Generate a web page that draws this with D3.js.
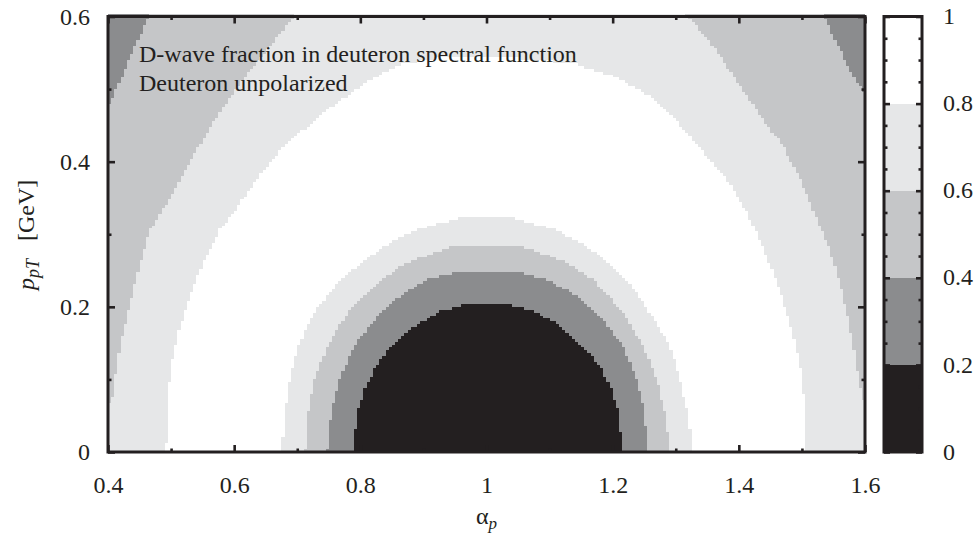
<!DOCTYPE html>
<html><head><meta charset="utf-8">
<script src="https://cdn.jsdelivr.net/npm/d3@7"></script>
<style>
body{margin:0;background:#fff}
svg{display:block}
text{font-family:"Liberation Serif","Times New Roman",serif;fill:#231f20}
</style>
</head><body>
<svg id="chart" width="976" height="535"></svg>
<script>
// ---------- data ----------
const levels = [0, 0.2, 0.4, 0.6, 0.8, 1];
const bandColors = ["#231f20", "#8b8c8e", "#c5c6c8", "#e6e7e8", "#ffffff"];
const xTicks = [0.4, 0.6, 0.8, 1, 1.2, 1.4, 1.6];
const xMinor = [0.5, 0.7, 0.9, 1.1, 1.3, 1.5];
const yTicks = [0, 0.2, 0.4, 0.6];
const yMinor = [0.1, 0.3, 0.5];
const cbTicks = [0, 0.2, 0.4, 0.6, 0.8, 1];
const cbMinor = [0.05,0.1,0.15,0.25,0.3,0.35,0.45,0.5,0.55,0.65,0.7,0.75,0.85,0.9,0.95];
const noteLines = ["D-wave fraction in deuteron spectral function", "Deuteron unpolarized"];

// contour boundaries [alpha_p, p_pT]
// inner half-rings (value below level inside)
const inner02 = [[0.788,0],[0.796,0.055],[0.809,0.091],[0.825,0.119],[0.848,0.146],[0.888,0.174],[0.927,0.194],[0.97,0.205],[1.03,0.205],[1.075,0.194],[1.117,0.174],[1.151,0.146],[1.18,0.119],[1.196,0.091],[1.209,0.055],[1.216,0]];
const inner04 = [[0.747,0],[0.754,0.054],[0.767,0.1],[0.790,0.146],[0.833,0.192],[0.864,0.215],[0.906,0.238],[0.962,0.2495],[1.041,0.2495],[1.096,0.238],[1.143,0.215],[1.175,0.192],[1.217,0.146],[1.238,0.1],[1.251,0.054],[1.256,0]];
const inner06 = [[0.712,0],[0.717,0.054],[0.727,0.1],[0.748,0.146],[0.78,0.192],[0.833,0.238],[0.875,0.261],[0.951,0.285],[1.051,0.285],[1.127,0.261],[1.169,0.238],[1.217,0.192],[1.248,0.146],[1.27,0.1],[1.283,0.054],[1.292,0]];
const inner08 = [[0.676,0],[0.68,0.054],[0.688,0.1],[0.701,0.146],[0.727,0.192],[0.769,0.238],[0.838,0.284],[0.891,0.307],[0.964,0.324],[1.035,0.324],[1.106,0.307],[1.159,0.284],[1.222,0.238],[1.259,0.192],[1.291,0.146],[1.306,0.1],[1.319,0.054],[1.327,0]];
// outer regions (value above level inside)
const outer08 = [[0.492,0],[0.495,0.077],[0.501,0.123],[0.513,0.169],[0.53,0.215],[0.551,0.261],[0.578,0.307],[0.598,0.328],[0.633,0.373],[0.677,0.419],[0.738,0.465],[0.812,0.511],[0.864,0.534],[0.92,0.542],[1.0,0.544],[1.08,0.541],[1.143,0.534],[1.201,0.518],[1.254,0.493],[1.292,0.465],[1.338,0.419],[1.383,0.373],[1.414,0.328],[1.438,0.282],[1.459,0.236],[1.477,0.19],[1.491,0.144],[1.501,0.098],[1.506,0.04],[1.507,0]];
const outer06 = [[0.4,0],[0.4,0.062],[0.409,0.077],[0.414,0.123],[0.425,0.169],[0.438,0.215],[0.451,0.261],[0.466,0.305],[0.483,0.328],[0.514,0.373],[0.543,0.419],[0.575,0.465],[0.612,0.511],[0.654,0.557],[0.696,0.6],[0.71,0.62],[1.30,0.62],[1.319,0.6],[1.362,0.557],[1.396,0.511],[1.433,0.465],[1.472,0.419],[1.499,0.373],[1.52,0.328],[1.543,0.282],[1.559,0.236],[1.572,0.19],[1.582,0.144],[1.59,0.098],[1.6,0.066],[1.6,0]];
const outer04 = [[0.4,0],[0.4,0.475],[0.405,0.485],[0.419,0.51],[0.44,0.555],[0.465,0.6],[0.468,0.62],[1.532,0.62],[1.535,0.6],[1.559,0.557],[1.585,0.511],[1.6,0.495],[1.6,0]];

// ---------- layout ----------
const svg = d3.select("#chart");
const ink = "#231f20";
const x = d3.scaleLinear().domain([0.4, 1.6]).range([108, 865]);
const y = d3.scaleLinear().domain([0, 0.6]).range([452, 16.5]);
const cy = d3.scaleLinear().domain([0, 1]).range([452, 16.5]);
const cbX0 = 884, cbX1 = 922;

function band(a, p) {
  const pt = [a, p];
  if (d3.polygonContains(inner02, pt)) return 0;
  if (d3.polygonContains(inner04, pt)) return 1;
  if (d3.polygonContains(inner06, pt)) return 2;
  if (d3.polygonContains(inner08, pt)) return 3;
  if (d3.polygonContains(outer08, pt)) return 4;
  if (d3.polygonContains(outer06, pt)) return 3;
  if (d3.polygonContains(outer04, pt)) return 2;
  return 1;
}

// raster of map cells, run-length merged per row
const nx = 240, ny = 150;
const da = 1.2 / nx, dp = 0.6 / ny;
const cells = [];
for (let j = 0; j <= ny; j++) {
  const p0 = j * dp, p1 = Math.min((j + 1) * dp, 0.6055);
  const pc = (j + 0.5) * dp;
  let start = 0, cur = band(0.4 + 0.5 * da, pc);
  for (let i = 1; i <= nx; i++) {
    const b = i < nx ? band(0.4 + (i + 0.5) * da, pc) : -1;
    if (b !== cur) {
      cells.push({a0: 0.4 + start * da, a1: 0.4 + i * da, p0, p1, b: cur});
      start = i; cur = b;
    }
  }
}
svg.append("g").attr("shape-rendering", "crispEdges")
  .selectAll("rect").data(cells).join("rect")
  .attr("x", d => x(d.a0)).attr("width", d => x(d.a1) - x(d.a0))
  .attr("y", d => y(d.p1)).attr("height", d => y(d.p0) - y(d.p1))
  .attr("fill", d => bandColors[d.b]);

// ---------- axes (ticks inward on all sides) ----------
function styleAxis(g) {
  g.select(".domain").remove();
  g.selectAll(".tick line").attr("stroke", ink).attr("stroke-width", 2.6);
  g.selectAll(".tick text").attr("font-size", 24).attr("fill", ink)
    .attr("font-family", '"Liberation Serif","Times New Roman",serif');
}
svg.append("g").attr("transform", `translate(0,${y(0)})`)
  .call(d3.axisBottom(x).tickValues(xTicks).tickSize(-7).tickPadding(24).tickFormat(d3.format("~g"))).call(styleAxis);
svg.append("g").attr("transform", `translate(0,${y(0)})`)
  .call(d3.axisBottom(x).tickValues(xMinor).tickSize(-3.5).tickFormat("")).call(styleAxis);
svg.append("g").attr("transform", `translate(0,${y(0.6)})`)
  .call(d3.axisTop(x).tickValues(xTicks).tickSize(-7).tickFormat("")).call(styleAxis);
svg.append("g").attr("transform", `translate(0,${y(0.6)})`)
  .call(d3.axisTop(x).tickValues(xMinor).tickSize(-3.5).tickFormat("")).call(styleAxis);
svg.append("g").attr("transform", `translate(${x(0.4)},0)`)
  .call(d3.axisLeft(y).tickValues(yTicks).tickSize(-7).tickPadding(18).tickFormat(d3.format("~g"))).call(styleAxis);
svg.append("g").attr("transform", `translate(${x(0.4)},0)`)
  .call(d3.axisLeft(y).tickValues(yMinor).tickSize(-3.5).tickFormat("")).call(styleAxis);
svg.append("g").attr("transform", `translate(${x(1.6)},0)`)
  .call(d3.axisRight(y).tickValues(yTicks).tickSize(-7).tickFormat("")).call(styleAxis);
svg.append("g").attr("transform", `translate(${x(1.6)},0)`)
  .call(d3.axisRight(y).tickValues(yMinor).tickSize(-3.5).tickFormat("")).call(styleAxis);

// frame
svg.append("rect").attr("x", x(0.4)).attr("y", y(0.6))
  .attr("width", x(1.6) - x(0.4)).attr("height", y(0) - y(0.6))
  .attr("fill", "none").attr("stroke", ink).attr("stroke-width", 3);

// note text
svg.append("g").selectAll("text").data(noteLines).join("text")
  .attr("x", 139).attr("y", (d, i) => 61.5 + i * 29.5)
  .attr("font-size", 24).text(d => d);

// axis titles
const xl = svg.append("text").attr("x", x(1)).attr("y", 524).attr("text-anchor", "middle").attr("font-size", 24);
xl.append("tspan").text("α");
xl.append("tspan").attr("font-style", "italic").attr("font-size", 17).attr("dy", 5).text("p");

const yl = svg.append("text").attr("transform", `translate(34,290) rotate(-90)`)
  .attr("text-anchor", "start").attr("font-size", 24);
yl.append("tspan").attr("font-style", "italic").text("p");
yl.append("tspan").attr("font-style", "italic").attr("font-size", 18).attr("dy", 5).text("pT");
yl.append("tspan").attr("dy", -5).attr("dx", 18).text("[GeV]");

// ---------- colour bar ----------
const cb = svg.append("g");
cb.append("g").attr("shape-rendering", "crispEdges")
  .selectAll("rect").data(d3.range(levels.length - 1)).join("rect")
  .attr("x", cbX0).attr("width", cbX1 - cbX0)
  .attr("y", i => cy(levels[i + 1])).attr("height", i => cy(levels[i]) - cy(levels[i + 1]))
  .attr("fill", i => bandColors[i]);
cb.append("g").attr("transform", `translate(${cbX0},0)`)
  .call(d3.axisLeft(cy).tickValues(cbTicks).tickSize(-6).tickFormat("")).call(styleAxis);
cb.append("g").attr("transform", `translate(${cbX0},0)`)
  .call(d3.axisLeft(cy).tickValues(cbMinor).tickSize(-3.5).tickFormat("")).call(styleAxis);
cb.append("g").attr("transform", `translate(${cbX1},0)`)
  .call(d3.axisRight(cy).tickValues(cbTicks).tickSize(-6).tickFormat("")).call(styleAxis);
cb.append("g").attr("transform", `translate(${cbX1},0)`)
  .call(d3.axisRight(cy).tickValues(cbMinor).tickSize(-3.5).tickFormat("")).call(styleAxis);
cb.append("rect").attr("x", cbX0).attr("y", cy(1)).attr("width", cbX1 - cbX0).attr("height", cy(0) - cy(1))
  .attr("fill", "none").attr("stroke", ink).attr("stroke-width", 3);
cb.selectAll("text.cbl").data(cbTicks).join("text").attr("class", "cbl")
  .attr("x", 943).attr("y", d => cy(d)).attr("dy", "0.32em").attr("font-size", 24)
  .text(d => d3.format("~g")(d));
</script>
</body></html>
